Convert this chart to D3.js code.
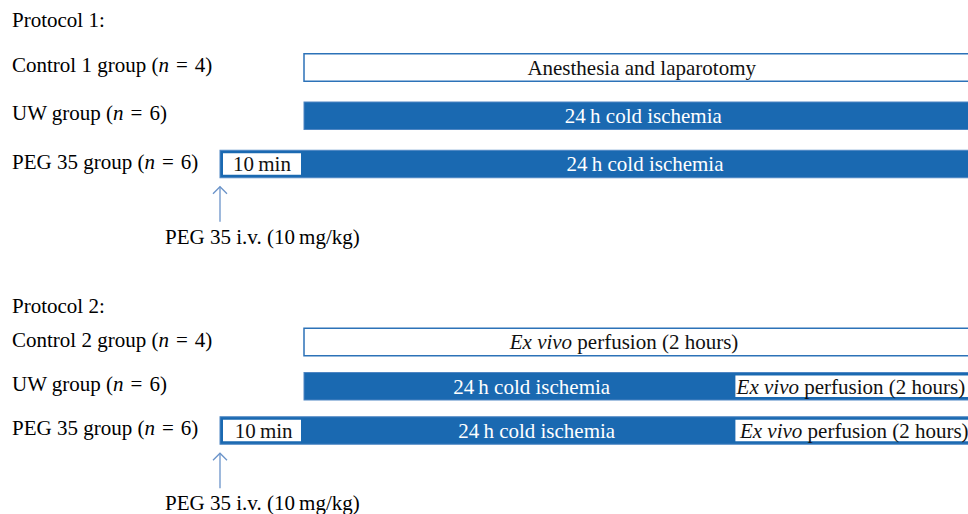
<!DOCTYPE html>
<html>
<head>
<meta charset="utf-8">
<script src="https://cdn.jsdelivr.net/npm/d3@7"></script>
<style>
  body { margin: 0; background: #fff; }
  svg { display: block; font-family: "Liberation Serif", "Times New Roman", serif; }
</style>
</head>
<body>
<div id="chart"></div>
<script>
// data
// timeline units: 0 = PEG 35 injection, 1 = start of ischemia / surgery, 6.1 = start of perfusion
var titles = ['Protocol 1:', 'Protocol 2:']
var groups1 = ['Control 1 group', 'UW group', 'PEG 35 group']
var counts1 = [4, 6, 6]
var groups2 = ['Control 2 group', 'UW group', 'PEG 35 group']
var counts2 = [4, 6, 6]
var injection = 'PEG 35 i.v. (10\u2009mg/kg)'

var segs1 = [
    { row: 0, from: 1, to: 9, kind: 'outline', label: 'Anesthesia and laparotomy', at: 5.02, anchor: 'middle' },
    { row: 1, from: 1, to: 9, kind: 'solid', label: '24\u2009h cold ischemia', at: 5.04, anchor: 'middle' },
    { row: 2, from: 0, to: 9, kind: 'solid', label: '24\u2009h cold ischemia', at: 5.06, anchor: 'middle' },
    { row: 2, from: 0, to: 1, kind: 'inset', label: '10\u2009min', at: 0.5, anchor: 'middle' }
]
var segs2 = [
    { row: 0, from: 1, to: 9, kind: 'outline', label: 'Ex vivo perfusion (2 hours)', at: 4.81, anchor: 'middle' },
    { row: 1, from: 1, to: 9, kind: 'solid', label: '24\u2009h cold ischemia', at: 3.71, anchor: 'middle' },
    { row: 1, from: 6.1, to: 9, kind: 'inset', label: 'Ex vivo perfusion (2 hours)', at: 6.15, anchor: 'start' },
    { row: 2, from: 0, to: 9, kind: 'solid', label: '24\u2009h cold ischemia', at: 3.77, anchor: 'middle' },
    { row: 2, from: 0, to: 1, kind: 'inset', label: '10\u2009min', at: 0.52, anchor: 'middle' },
    { row: 2, from: 6.1, to: 9, kind: 'inset', label: 'Ex vivo perfusion (2 hours)', at: 6.19, anchor: 'start' }
]

// svg
var w = 968,
    h = 514,
    fs = 21,
    bh = 27.5,
    blue = '#1a69b1'

var svg = d3.select('#chart')
    .append('svg')
    .attr('width', w)
    .attr('height', h)

// scales
var x = d3.scaleLinear()
    .domain([0, 9])
    .range([220, 976])

var panels = [
    { title: titles[0], groups: groups1, counts: counts1, segs: segs1, top: 26.7,
      y: d3.scalePoint().domain(groups1.map((d, i) => i)).range([67.5, 164]) },
    { title: titles[1], groups: groups2, counts: counts2, segs: segs2, top: 313.3,
      y: d3.scalePoint().domain(groups2.map((d, i) => i)).range([342, 430.5]) }
]

// write text, italic for "n" and "Ex vivo"
function rich(sel, text) {
    var parts = text.split(/(Ex vivo|\bn\b)/).filter(p => p !== '')
    parts.forEach(p => {
        sel.append('tspan')
            .style('font-style', (p === 'Ex vivo' || p === 'n') ? 'italic' : 'normal')
            .text(p)
    })
}

panels.forEach(p => {
    var g = svg.append('g')

    g.append('text')
        .attr('x', 12)
        .attr('y', p.top)
        .attr('font-size', fs)
        .text(p.title)

    // group labels
    p.groups.forEach((name, i) => {
        var t = g.append('text')
            .attr('x', 12)
            .attr('y', p.y(i))
            .attr('dy', '0.22em')
            .attr('font-size', fs)
        rich(t, name + ' (n\u2004=\u2004' + p.counts[i] + ')')
    })

    // bars
    p.segs.forEach(s => {
        var cy = p.y(s.row)
        var inset = s.kind === 'inset' ? 3 : 0
        g.append('rect')
            .attr('x', x(s.from) + inset)
            .attr('y', cy - bh / 2 + inset)
            .attr('width', x(s.to) - x(s.from) - inset * 2)
            .attr('height', bh - inset * 2)
            .attr('fill', s.kind === 'solid' ? blue : '#fff')
            .attr('stroke', s.kind === 'solid' ? '#4f86c3' : s.kind === 'outline' ? '#2c72b8' : 'none')
            .attr('stroke-width', s.kind === 'outline' ? 1.5 : 1)

        var t = g.append('text')
            .attr('x', x(s.at))
            .attr('y', cy)
            .attr('dy', '0.35em')
            .attr('text-anchor', s.anchor)
            .attr('font-size', fs)
            .attr('fill', s.kind === 'solid' ? '#fff' : '#111')
        rich(t, s.label)
    })

    // injection arrow
    var bottom = p.y(2) + bh / 2
    var ax = x(0)
    g.append('line')
        .attr('x1', ax).attr('x2', ax)
        .attr('y1', bottom + 9).attr('y2', bottom + 44)
        .attr('stroke', '#6a93c9')
        .attr('stroke-width', 1.3)
    g.append('path')
        .attr('d', `M${ax - 7},${bottom + 16} L${ax},${bottom + 9} L${ax + 7},${bottom + 16}`)
        .attr('fill', 'none')
        .attr('stroke', '#6a93c9')
        .attr('stroke-width', 1.3)

    g.append('text')
        .attr('x', ax - 55)
        .attr('y', bottom + 66)
        .attr('font-size', fs)
        .text(injection)
})
</script>
</body>
</html>
